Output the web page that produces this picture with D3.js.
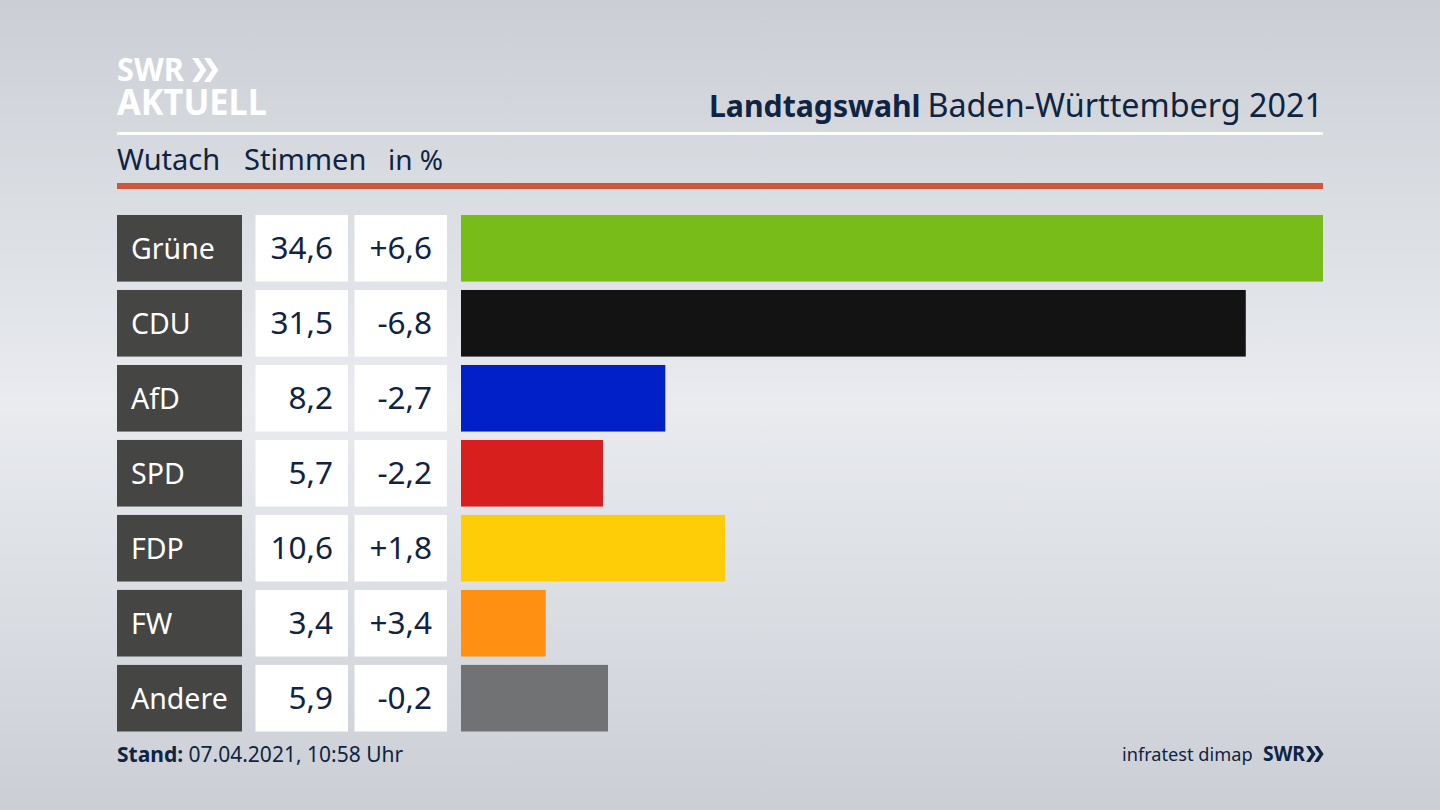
<!DOCTYPE html>
<html>
<head>
<meta charset="utf-8">
<script src="https://cdn.jsdelivr.net/npm/d3@7"></script>
<style>
    html, body { margin: 0; padding: 0; width: 1440px; height: 810px; overflow: hidden; }
    text { font-family: "Noto Sans", sans-serif; }
</style>
</head>
<body>
<div id="chart"></div>
<script>
const parties = ['Grüne', 'CDU', 'AfD', 'SPD', 'FDP', 'FW', 'Andere'];
const shares = [34.6, 31.5, 8.2, 5.7, 10.6, 3.4, 5.9];
const changes = ['+6,6', '-6,8', '-2,7', '-2,2', '+1,8', '+3,4', '-0,2'];
const barColors = ['#78bc1a', '#131313', '#0120c8', '#d7201e', '#ffcc08', '#ff9012', '#717274'];

const width = 1440;
const height = 810;
const navy = '#0f2342';
const left = 117;
const right = 1323;

const svg = d3.select('#chart')
    .append('svg')
    .attr('width', width)
    .attr('height', height)
    .style('display', 'block');

// hintergrund
const grad = svg.append('defs').append('linearGradient')
    .attr('id', 'bg')
    .attr('x1', 0).attr('y1', 0).attr('x2', 0).attr('y2', 1);
grad.append('stop').attr('offset', '0%').attr('stop-color', '#cbcfd5');
grad.append('stop').attr('offset', '50%').attr('stop-color', '#e9ebef');
grad.append('stop').attr('offset', '100%').attr('stop-color', '#cbcfd5');
svg.append('rect').attr('width', width).attr('height', height).attr('fill', 'url(#bg)');

// logo
svg.append('text').attr('x', left).attr('y', 81)
    .attr('fill', 'white').attr('font-size', 33).attr('font-weight', 700)
    .attr('textLength', 67).attr('lengthAdjust', 'spacingAndGlyphs').text('SWR');
svg.append('text').attr('x', left).attr('y', 115)
    .attr('fill', 'white').attr('font-size', 35).attr('font-weight', 700)
    .attr('textLength', 150).attr('lengthAdjust', 'spacingAndGlyphs').text('AKTUELL');

function chevrons(x, y, h, color) {
    const w = h * 0.34;
    const t = h * 0.26;
    [0, h * 0.5].forEach(dx => {
        svg.append('path')
            .attr('d', d3.line()([[x + dx, y], [x + dx + t, y], [x + dx + t + w, y + h / 2], [x + dx + t, y + h], [x + dx, y + h], [x + dx + w, y + h / 2]]))
            .attr('fill', color);
    });
}
chevrons(192, 58, 24, 'white');

// kopfzeile
svg.append('text').attr('x', 709).attr('y', 117)
    .attr('fill', navy).attr('font-size', 30.2).attr('font-weight', 700)
    .text('Landtagswahl');
svg.append('text').attr('x', right).attr('y', 117)
    .attr('text-anchor', 'end').attr('fill', navy).attr('font-size', 32.3)
    .text('Baden-Württemberg 2021');

svg.append('rect').attr('x', left).attr('y', 132).attr('width', right - left).attr('height', 3).attr('fill', 'white');
svg.append('rect').attr('x', left).attr('y', 183).attr('width', right - left).attr('height', 6).attr('fill', '#cc573d');

[['Wutach', 117, 29], ['Stimmen', 244, 29], ['in %', 388, 28]].forEach(d => {
    svg.append('text').attr('x', d[1]).attr('y', 170)
        .attr('fill', navy).attr('font-size', d[2]).text(d[0]);
});

// skalen
const y = d3.scaleBand()
    .domain(parties)
    .range([215, 731.5])
    .paddingInner(0.112)
    .paddingOuter(0);

const x = d3.scaleLinear()
    .domain([0, d3.max(shares)])
    .range([461, right]);

const rows = svg.selectAll('.row')
    .data(parties)
    .enter()
    .append('g')
    .attr('class', 'row')
    .attr('transform', d => `translate(0,${y(d)})`);

rows.append('rect').attr('x', left).attr('width', 125).attr('height', y.bandwidth()).attr('fill', '#454543');
rows.append('rect').attr('x', 255.5).attr('width', 92.5).attr('height', y.bandwidth()).attr('fill', 'white');
rows.append('rect').attr('x', 354.5).attr('width', 92.5).attr('height', y.bandwidth()).attr('fill', 'white');

rows.append('rect')
    .attr('x', x(0))
    .attr('width', (d, i) => x(shares[i]) - x(0))
    .attr('height', y.bandwidth())
    .attr('fill', (d, i) => barColors[i]);

const textY = y.bandwidth() / 2 + 11;

rows.append('text')
    .attr('x', 131).attr('y', textY)
    .attr('fill', 'white').attr('font-size', 28.5)
    .text(d => d);

rows.append('text')
    .attr('x', 333).attr('y', textY)
    .attr('text-anchor', 'end').attr('fill', navy).attr('font-size', 31.5)
    .text((d, i) => String(shares[i]).replace('.', ','));

rows.append('text')
    .attr('x', 432).attr('y', textY)
    .attr('text-anchor', 'end').attr('fill', navy).attr('font-size', 31.5)
    .text((d, i) => changes[i]);

// fusszeile
const stand = svg.append('text').attr('x', left).attr('y', 762)
    .attr('fill', navy).attr('font-size', 21);
stand.append('tspan').attr('font-weight', 700).text('Stand:');
stand.append('tspan').text(' 07.04.2021, 10:58 Uhr');

svg.append('text').attr('x', 1122).attr('y', 761)
    .attr('fill', navy).attr('font-size', 18.2)
    .text('infratest dimap');
svg.append('text').attr('x', 1263).attr('y', 761)
    .attr('fill', navy).attr('font-size', 21).attr('font-weight', 700)
    .attr('textLength', 42).attr('lengthAdjust', 'spacingAndGlyphs').text('SWR');
chevrons(1306, 746, 16, navy);
</script>
</body>
</html>
